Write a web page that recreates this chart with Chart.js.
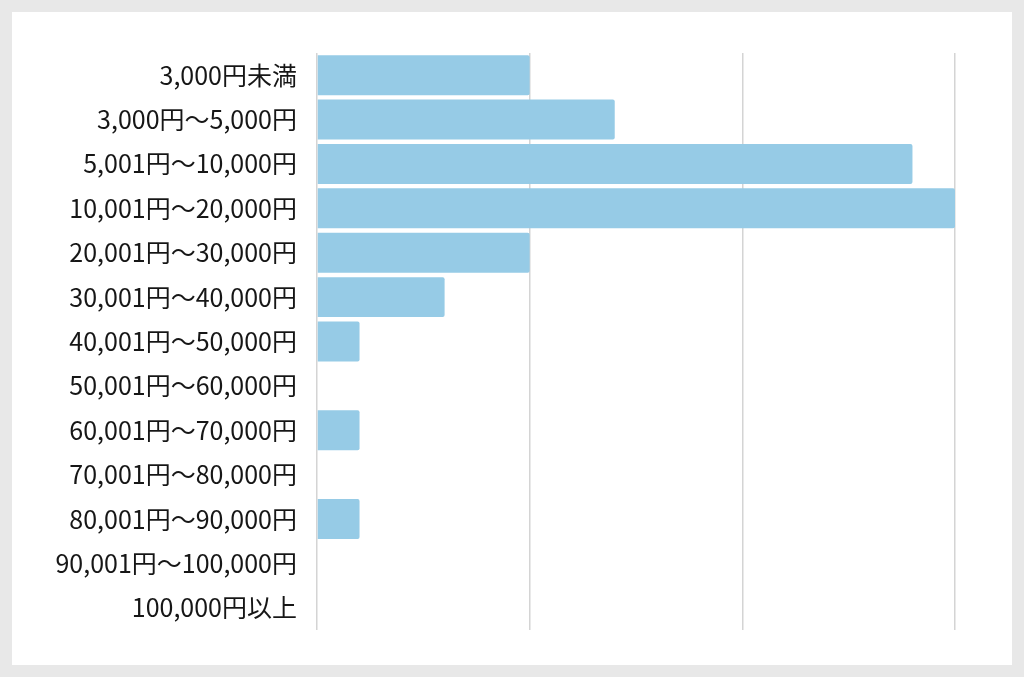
<!DOCTYPE html>
<html lang="ja">
<head>
    <meta charset="UTF-8">
    <title>価格帯</title>
    <style>
        html, body {
            margin: 0;
            padding: 0;
            background: #e8e8e8;
        }
        #panel {
            position: absolute;
            left: 12px;
            top: 12px;
            width: 1000px;
            height: 653px;
            background: #ffffff;
        }
    </style>
</head>
<body>
<div id="panel">
    <canvas id="chart" width="1000" height="653"></canvas>
</div>

<script src="https://cdn.jsdelivr.net/npm/chart.js"></script>
<script>
    const categories = [
        '3,000円未満',
        '3,000円～5,000円',
        '5,001円～10,000円',
        '10,001円～20,000円',
        '20,001円～30,000円',
        '30,001円～40,000円',
        '40,001円～50,000円',
        '50,001円～60,000円',
        '60,001円～70,000円',
        '70,001円～80,000円',
        '80,001円～90,000円',
        '90,001円～100,000円',
        '100,000円以上'
    ];
    const counts = [5, 7, 14, 15, 5, 3, 1, 0, 1, 0, 1, 0, 0];
    const xTicks = [0, 5, 10, 15];

    const ctx = document.getElementById('chart').getContext('2d');
    new Chart(ctx, {
        type: 'bar',
        data: {
            labels: categories,
            datasets: [{
                data: counts,
                backgroundColor: '#96cbe6',
                borderWidth: 0,
                borderRadius: 2,
                borderSkipped: 'start',
                barPercentage: 0.9,
                categoryPercentage: 1
            }]
        },
        options: {
            indexAxis: 'y',
            responsive: false,
            animation: false,
            layout: {
                padding: { top: 41, bottom: 33, right: 57, left: 0 }
            },
            plugins: {
                legend: { display: false },
                tooltip: { enabled: false }
            },
            scales: {
                x: {
                    min: 0,
                    max: 15,
                    afterBuildTicks: (scale) => {
                        scale.ticks = xTicks.map(v => ({ value: v }));
                    },
                    ticks: { display: false },
                    grid: { color: '#d4d4d4', lineWidth: 1.5, drawTicks: false },
                    border: { display: false }
                },
                y: {
                    afterFit: (scale) => { scale.width = 305; },
                    grid: { display: false, drawTicks: false },
                    border: { display: false },
                    ticks: {
                        padding: 20,
                        color: '#161616',
                        font: { family: '"Noto Sans CJK JP", "Noto Sans", sans-serif', size: 25 }
                    }
                }
            }
        }
    });
</script>
</body>
</html>
